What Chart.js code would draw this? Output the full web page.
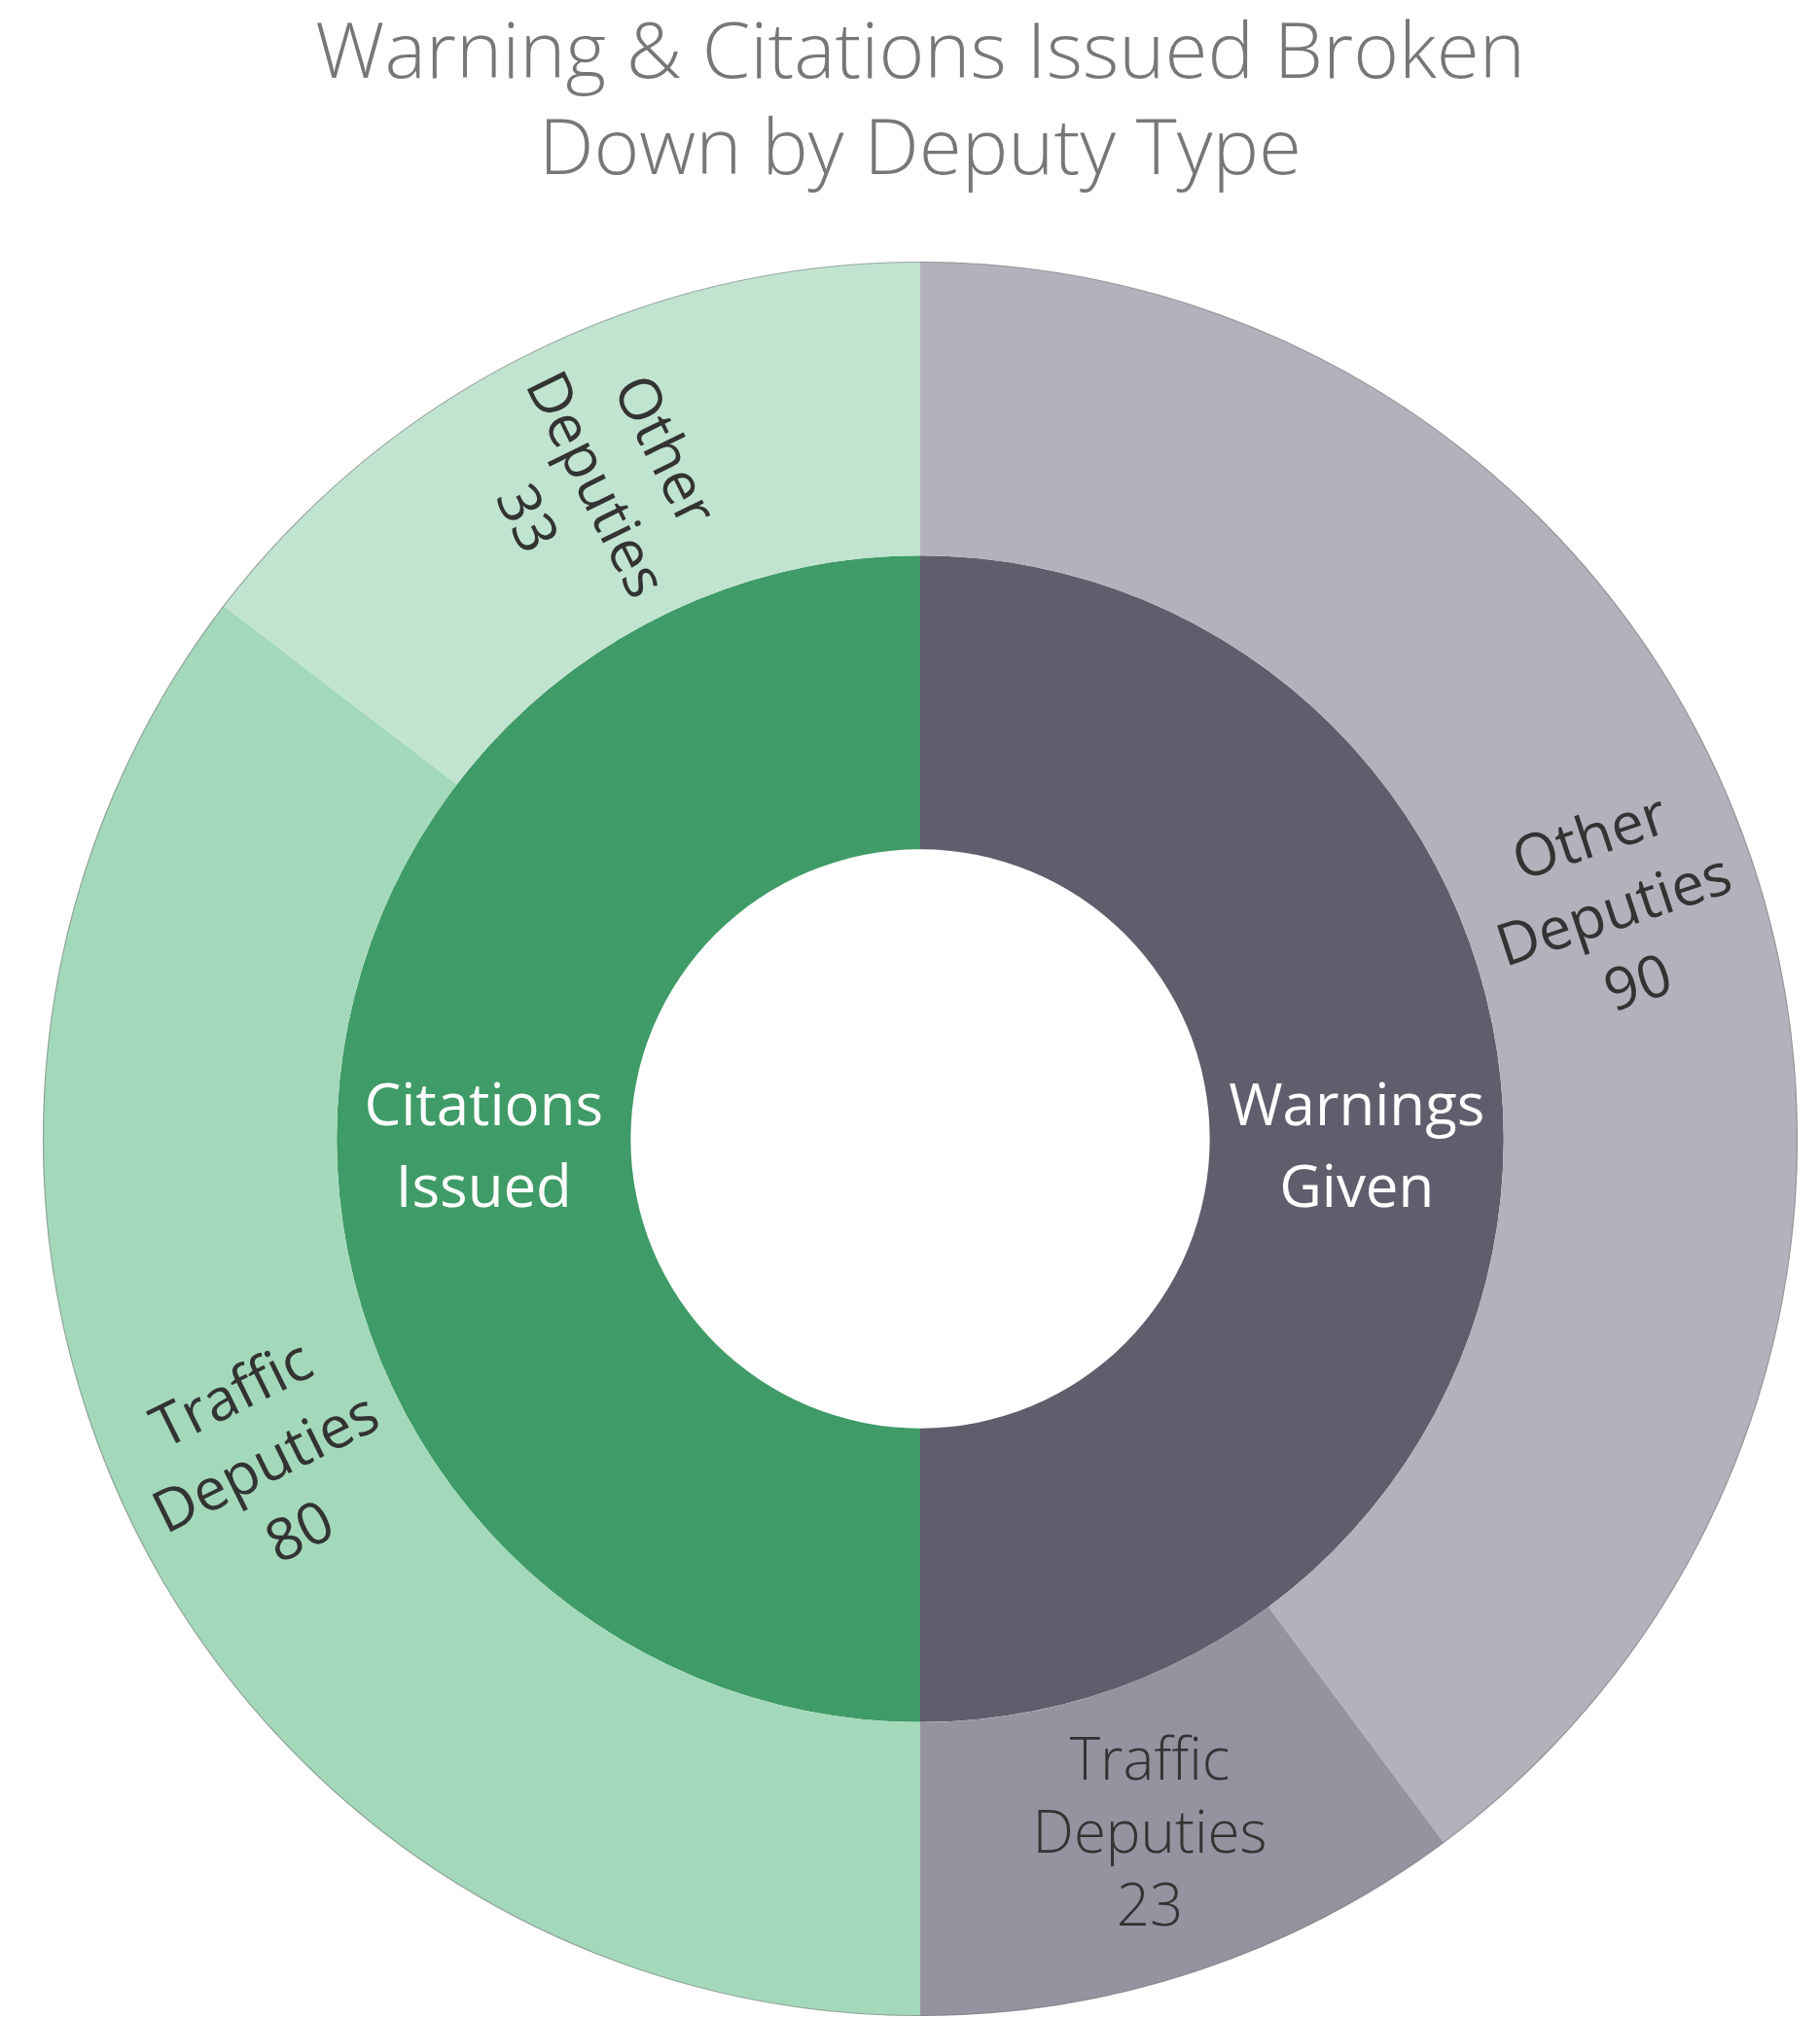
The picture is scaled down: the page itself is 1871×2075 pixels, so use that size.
<!DOCTYPE html>
<html>
<head>
<meta charset="utf-8">
<script src="https://cdn.jsdelivr.net/npm/chart.js@4/dist/chart.umd.min.js"></script>
<style>
  html, body { margin: 0; padding: 0; background: #ffffff; }
  #wrap { width: 1871px; height: 2075px; }
</style>
</head>
<body>
<div id="wrap"><canvas id="c" width="1871" height="2075"></canvas></div>
<script>
// ---- data ----
const titleLines = ['Warning & Citations Issued Broken', 'Down by Deputy Type'];
const parentLabels = ['Warnings Given', 'Citations Issued'];
const parentValues = [113, 113];
const childLabels = ['Other Deputies', 'Traffic Deputies', 'Traffic Deputies', 'Other Deputies'];
const childValues = [90, 23, 80, 33];

// ---- styles ----
const parentColors = ['#605E6D', '#3F9B67'];
const childColors = ['#B3B2BC', '#9593A0', '#A3D9BA', '#C1E4D1'];
const childOrient = ['radial', 'horizontal', 'radial', 'radial'];
const childWeight = ['400', '300', '400', '400'];

const FONT = '"Open Sans", "Noto Sans", sans-serif';

function wrapLabel(label) {
  return label.split(' ');
}

const labelPlugin = {
  id: 'sunLabels',
  afterDatasetsDraw(chart) {
    const ctx = chart.ctx;
    // outer ring stroke
    const m0 = chart.getDatasetMeta(0);
    if (m0.data.length) {
      const a = m0.data[0];
      ctx.save();
      ctx.beginPath();
      ctx.arc(a.x, a.y, a.outerRadius - 0.5, 0, Math.PI * 2);
      ctx.strokeStyle = 'rgba(120,120,120,0.55)';
      ctx.lineWidth = 1.2;
      ctx.stroke();
      ctx.restore();
    }
    // outer labels
    m0.data.forEach((arc, i) => {
      const p = arc.getProps(['x', 'y', 'startAngle', 'endAngle', 'innerRadius', 'outerRadius'], true);
      const mid = (p.startAngle + p.endAngle) / 2;
      const r = (p.innerRadius + p.outerRadius) / 2;
      const cx = p.x + Math.cos(mid) * r;
      const cy = p.y + Math.sin(mid) * r;
      let rot = 0;
      const radial = childOrient[i] === 'radial';
      if (radial) {
        rot = mid;
        if (Math.cos(rot) < 0) rot += Math.PI;
      }
      const lines = wrapLabel(childLabels[i]).concat([String(childValues[i])]);
      const lh = radial ? 79 : 75;
      ctx.save();
      ctx.translate(cx, cy);
      ctx.rotate(rot);
      ctx.fillStyle = '#333333';
      ctx.font = childWeight[i] + ' 60px ' + FONT;
      ctx.textAlign = 'center';
      ctx.textBaseline = 'middle';
      lines.forEach((t, k) => {
        ctx.fillText(t, 0, 4 + (k - (lines.length - 1) / 2) * lh);
      });
      ctx.restore();
    });
    // inner labels
    const m1 = chart.getDatasetMeta(1);
    m1.data.forEach((arc, i) => {
      const p = arc.getProps(['x', 'y', 'startAngle', 'endAngle', 'innerRadius', 'outerRadius'], true);
      const mid = (p.startAngle + p.endAngle) / 2;
      const r = (p.innerRadius + p.outerRadius) / 2;
      const cx = p.x + Math.cos(mid) * r;
      const cy = p.y + Math.sin(mid) * r;
      const lines = wrapLabel(parentLabels[i]);
      const lh = 84;
      ctx.save();
      ctx.fillStyle = '#ffffff';
      ctx.font = '400 60px ' + FONT;
      ctx.textAlign = 'center';
      ctx.textBaseline = 'middle';
      lines.forEach((t, k) => {
        ctx.fillText(t, cx, cy + 11 + (k - (lines.length - 1) / 2) * lh);
      });
      ctx.restore();
    });
  }
};

new Chart(document.getElementById('c'), {
  type: 'doughnut',
  data: {
    labels: childLabels,
    datasets: [
      { label: 'Deputy Type', data: childValues, backgroundColor: childColors, borderWidth: 0 },
      { label: 'Type', data: parentValues, backgroundColor: parentColors, borderWidth: 0 }
    ]
  },
  options: {
    responsive: false,
    animation: false,
    cutout: '33%',
    layout: { padding: { left: 21, right: 0, top: 0, bottom: 2 } },
    plugins: {
      legend: { display: false },
      tooltip: { enabled: false },
      title: {
        display: true,
        text: titleLines,
        color: '#777777',
        font: { family: FONT, size: 80, weight: '300', lineHeight: 1.2375 },
        padding: { top: 8, bottom: 63 }
      }
    }
  },
  plugins: [labelPlugin]
});
</script>
</body>
</html>
